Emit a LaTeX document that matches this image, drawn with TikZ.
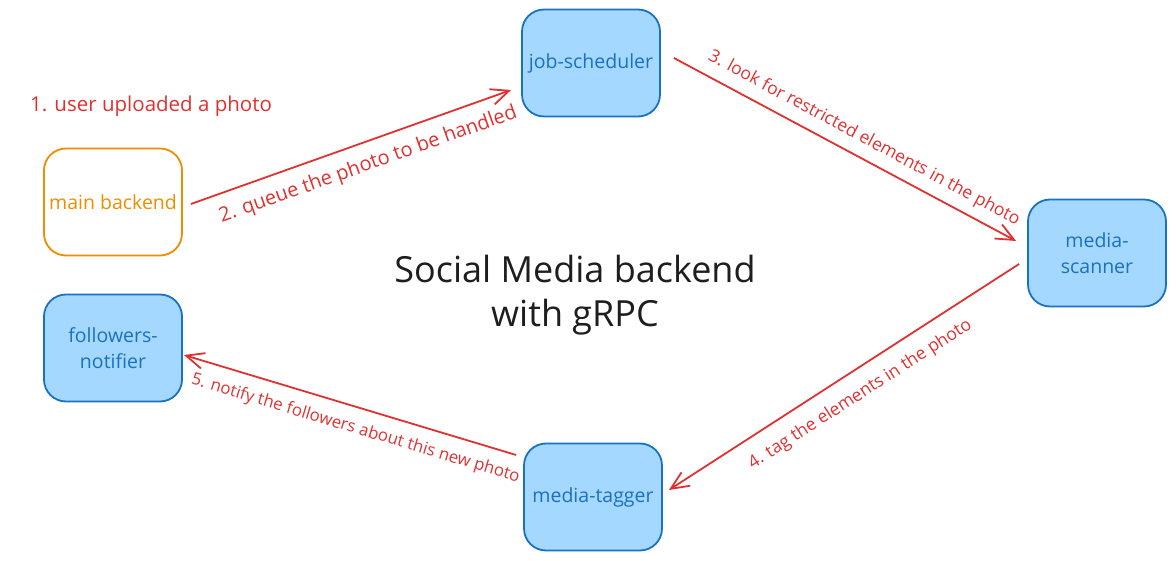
\documentclass[tikz,border=0pt]{standalone}
\usepackage{fontspec}
\setmainfont{Open Sans}
\usetikzlibrary{arrows.meta,calc}
\definecolor{exblue}{HTML}{1971C2}
\definecolor{exfill}{HTML}{A5D8FF}
\definecolor{exorange}{HTML}{F08C00}
\definecolor{exred}{HTML}{E03131}
\definecolor{exblack}{HTML}{1E1E1E}
\tikzset{
  box/.style={rounded corners=22pt, line width=1.8pt, minimum width=138pt, minimum height=107pt, align=center, inner sep=2pt, font=\fontsize{19.5}{26}\selectfont},
  bluebox/.style={box, draw=exblue, fill=exfill, text=exblue},
  orangebox/.style={box, draw=exorange, text=exorange},
  arr/.style={draw=exred, line width=1.8pt, -{Straight Barb[length=18pt,width=16pt,line width=1.8pt]}},
  elabel/.style={text=exred, font=\fontsize{17.5}{20}\selectfont, sloped, inner sep=0pt},
  biglabel/.style={elabel, font=\fontsize{20}{23}\selectfont},
  smalllabel/.style={elabel, font=\fontsize{16.8}{20}\selectfont}
}
\begin{document}
\begin{tikzpicture}[x=1pt,y=-1pt]
\useasboundingbox (0,0) rectangle (1176,561);
\node[orangebox] (main) at (113,202) {main backend};
\node[bluebox] (job) at (591,63) {job-scheduler};
\node[bluebox] (scan) at (1097,253) {media-\\scanner};
\node[bluebox] (tag) at (593,497) {media-tagger};
\node[bluebox] (foll) at (113,348) {followers-\\notifier};
\node[text=exred, font=\fontsize{20.5}{24}\selectfont, anchor=west, inner sep=0pt] (note) at (30,106) {1. user uploaded a photo};
\node[text=exblack, font=\fontsize{36}{44}\selectfont, align=center] (title) at (575,295) {Social Media backend\\with gRPC};
\draw[arr] ($(main.east)+(8,2)$) -- node[biglabel, pos=0.53, below=12pt] {2. queue the photo to be handled} ($(job.west)+(-10,27)$);
\draw[arr] ($(job.east)+(13,-5)$) -- node[elabel, pos=0.53, above=9pt] {3. look for restricted elements in the photo} ($(scan.west)+(-11,-12)$);
\draw[arr] ($(scan.west)+(-8,11)$) -- node[elabel, pos=0.49, below=14pt] {4. tag the elements in the photo} ($(tag.east)+(6,-7)$);
\draw[arr] ($(tag.west)+(-7,-42)$) -- node[smalllabel, pos=0.465, below=12pt] {5. notify the followers about this new photo} ($(foll.east)+(1,7)$);
\end{tikzpicture}
\end{document}
